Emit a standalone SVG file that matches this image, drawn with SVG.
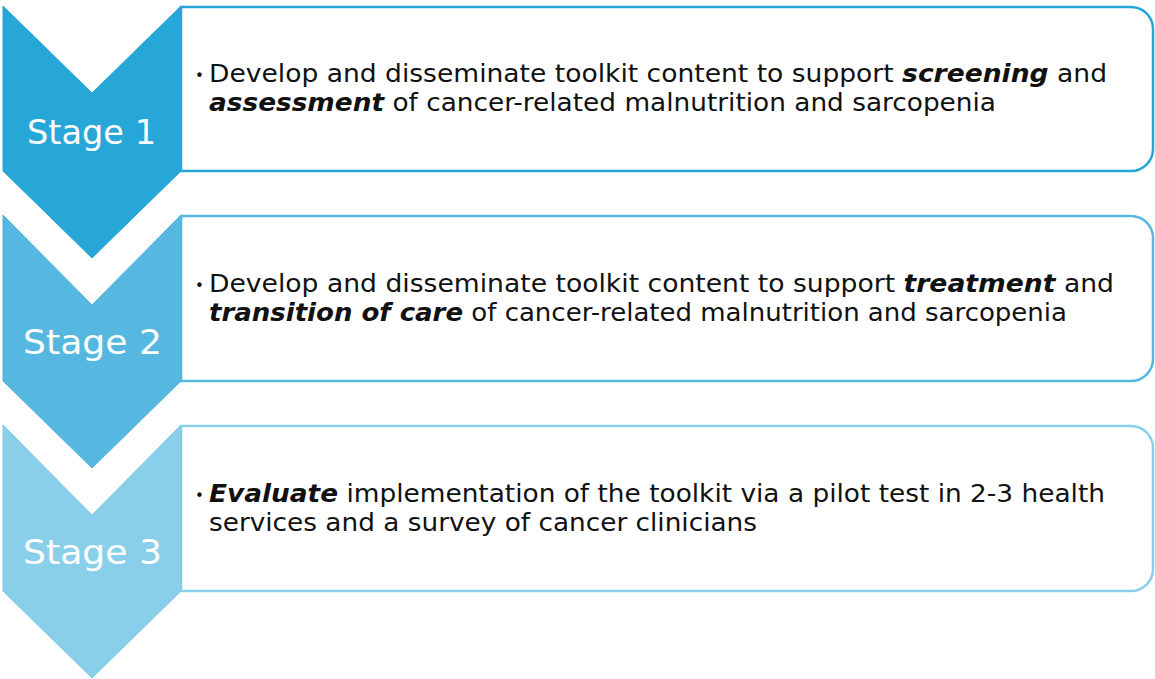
<svg xmlns="http://www.w3.org/2000/svg" width="1155" height="679" viewBox="0 0 1155 679">
<style>
.box{fill:#fff;stroke-width:2.5}
.lbl{font-family:"DejaVu Sans","Liberation Sans",sans-serif;font-size:34px;fill:#fff}
.txt{font-family:"DejaVu Sans","Liberation Sans",sans-serif;font-size:24.5px;fill:#111}
.em{font-style:italic;font-weight:bold}
.bul{font-family:"DejaVu Sans",sans-serif;font-size:15px;fill:#111}
</style>
<rect width="1155" height="679" fill="#fff"/>
<g id="stage1">
<path class="box" stroke="#27A6D8" d="M181 7 H1131 A22 22 0 0 1 1153 29 V149 A22 22 0 0 1 1131 171 H181 Z"/>
<path fill="#27A6D8" stroke="#27A6D8" stroke-width="1" d="M3 6 L92 93 L181 6 V171 L92 258 L3 171 Z"/>
<text class="lbl" x="27" y="144" textLength="129" lengthAdjust="spacingAndGlyphs">Stage 1</text>
<text class="bul" x="195" y="81">•</text>
<text class="txt" x="209" y="82" textLength="898" lengthAdjust="spacingAndGlyphs">Develop and disseminate toolkit content to support <tspan class="em">screening</tspan> and</text>
<text class="txt" x="209" y="111" textLength="787" lengthAdjust="spacingAndGlyphs"><tspan class="em">assessment</tspan> of cancer-related malnutrition and sarcopenia</text>
</g>
<g id="stage2">
<path class="box" stroke="#56B8E0" d="M181 216 H1131 A22 22 0 0 1 1153 238 V359 A22 22 0 0 1 1131 381 H181 Z"/>
<path fill="#56B8E0" stroke="#4FB3DD" stroke-width="1" d="M3 215 L92 305 L181 215 V381 L92 468 L3 381 Z"/>
<text class="lbl" x="23" y="354" textLength="139" lengthAdjust="spacingAndGlyphs">Stage 2</text>
<text class="bul" x="195" y="291">•</text>
<text class="txt" x="209" y="292" textLength="905" lengthAdjust="spacingAndGlyphs">Develop and disseminate toolkit content to support <tspan class="em">treatment</tspan> and</text>
<text class="txt" x="209" y="321" textLength="858" lengthAdjust="spacingAndGlyphs"><tspan class="em">transition of care</tspan> of cancer-related malnutrition and sarcopenia</text>
</g>
<g id="stage3">
<path class="box" stroke="#8ACFEA" d="M181 426 H1131 A22 22 0 0 1 1153 448 V569 A22 22 0 0 1 1131 591 H181 Z"/>
<path fill="#8ACFEA" stroke="#7CC8E6" stroke-width="1" d="M3 425 L92 515 L181 425 V591 L92 678 L3 591 Z"/>
<text class="lbl" x="23" y="564" textLength="139" lengthAdjust="spacingAndGlyphs">Stage 3</text>
<text class="bul" x="195" y="501">•</text>
<text class="txt" x="209" y="502" textLength="896" lengthAdjust="spacingAndGlyphs"><tspan class="em">Evaluate</tspan> implementation of the toolkit via a pilot test in 2-3 health</text>
<text class="txt" x="209" y="531" textLength="548" lengthAdjust="spacingAndGlyphs">services and a survey of cancer clinicians</text>
</g>
<g id="connectors"/>
</svg>
